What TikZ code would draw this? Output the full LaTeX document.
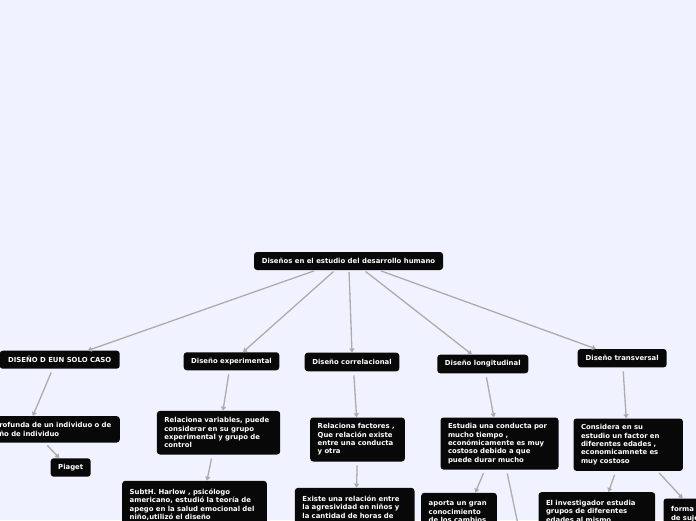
\documentclass[tikz,border=0pt]{standalone}
\usepackage{fontspec}
\setmainfont{DejaVu Sans}
\usetikzlibrary{arrows.meta}
\definecolor{bg}{RGB}{240,243,255}
\definecolor{edgec}{RGB}{172,172,172}
\definecolor{boxc}{RGB}{8,8,8}
\begin{document}
\begin{tikzpicture}[x=1pt,y=-1pt,
  every node/.style={font=\bfseries\fontsize{6.9}{8.3}\selectfont, text=white},
  box/.style={fill=boxc, rounded corners=3pt, inner xsep=7.5pt, inner ysep=4.5pt, align=left},
  cutbox/.style={box, inner ysep=8pt},
  sbox/.style={fill=boxc, rounded corners=3pt, inner sep=0pt, align=center},
  conn/.style={draw=edgec, line width=1.3pt, -{Triangle[length=4pt,width=5pt]}, shorten <=3.8pt}]
\useasboundingbox (0,0) rectangle (696,520);
\clip (0,0) rectangle (696,520);
\fill[bg] (0,0) rectangle (696,520);

% level 0 and 1
\node[sbox, minimum width=189pt, minimum height=18pt] (root) at (348.5,261) {Diseños en el estudio del desarrollo humano};
\node[sbox, minimum width=120pt, minimum height=18pt] (solo) at (59.7,359.7) {DISEÑO D EUN SOLO CASO};
\node[sbox, minimum width=95.6pt, minimum height=18pt] (exp) at (231.5,361.3) {Diseño experimental};
\node[sbox, minimum width=94.6pt, minimum height=18.6pt] (corr) at (352,362) {Diseño correlacional};
\node[sbox, minimum width=91pt, minimum height=18.6pt] (long) at (482.8,364) {Diseño longitudinal};
\node[sbox, minimum width=89pt, minimum height=18.3pt] (trans) at (622.2,358.2) {Diseño transversal};

% level 2 and 3
\node[box, anchor=north east, text width=113pt, minimum height=26.3pt] (prof) at (120,416) {rofunda de un individuo o de\\ño de individuo};
\node[sbox, minimum width=40pt, minimum height=18.4pt] (piaget) at (70.7,467.5) {Piaget};
\node[box, anchor=north west, text width=108.3pt, minimum height=43.6pt] (relvar) at (156.7,410.7) {Relaciona variables, puede\\considerar en su grupo\\experimental y grupo de\\control};
\node[cutbox, anchor=north west, text width=129.7pt] (harlow) at (122,480.7) {SubtH. Harlow , psicólogo\\americano, estudió la teoría de\\apego en la salud emocional del\\niño,utilizó el diseño\\\mbox{}\\\mbox{}};
\node[box, anchor=north west, text width=79.7pt, minimum height=44pt] (relfac) at (310,417.3) {Relaciona factores ,\\Que relación existe\\entre una conducta\\y otra};
\node[cutbox, anchor=north west, text width=104.6pt] (existe) at (294.7,487.7) {Existe una relación entre\\la agresividad en niños y\\la cantidad de horas de\\\mbox{}\\\mbox{}};
\node[box, anchor=north west, text width=103pt, minimum height=52pt] (estudia) at (440.3,417.3) {Estudia una conducta por\\mucho tiempo ,\\económicamente es muy\\costoso debido a que\\puede durar mucho};
\node[cutbox, anchor=north west, text width=60.7pt] (aporta) at (421,492.7) {aporta un gran\\conocimiento\\de los cambios\\\mbox{}};
\node[box, anchor=north west, text width=94.4pt, minimum height=52.4pt] (cons) at (573.3,418.3) {Considera en su\\estudio un factor en\\diferentes edades ,\\economicamnete es\\muy costoso};
\node[cutbox, anchor=north west, text width=101.7pt] (elinv) at (538.3,492) {El investigador estudia\\grupos de diferentes\\edades al mismo\\\mbox{}};
\node[cutbox, anchor=north west, text width=60pt] (forma) at (663.3,498.3) {forma\\de suje\\\mbox{}};
\coordinate (offl) at (521.2,540);

% connectors
\draw[conn, shorten <=2pt] ([xshift=-32.5pt]root.south) -- ([xshift=28pt]solo.north);
\draw[conn, shorten <=2pt] ([xshift=-13.5pt]root.south) -- ([xshift=11.5pt]exp.north);
\draw[conn, shorten <=2pt] ([xshift=0.5pt]root.south) -- (corr.north);
\draw[conn, shorten <=2pt] ([xshift=15.5pt]root.south) -- ([xshift=-10.8pt]long.north);
\draw[conn, shorten <=2pt] ([xshift=30.5pt]root.south) -- ([xshift=-26.2pt]trans.north);
\draw[conn] ([xshift=-7pt]solo.south) -- ([xshift=-23pt]prof.north);
\draw[conn] ([xshift=-11pt]prof.south) -- ([xshift=-11.4pt]piaget.north);
\draw[conn] ([xshift=-2.2pt]exp.south) -- ([xshift=4.4pt]relvar.north);
\draw[conn] ([xshift=-6.3pt]relvar.south) -- ([xshift=12.4pt]harlow.north);
\draw[conn] ([xshift=1.7pt]corr.south) -- ([xshift=-1pt]relfac.north);
\draw[conn] ([xshift=-0.3pt]relfac.south) -- ([xshift=1.8pt]existe.north);
\draw[conn] ([xshift=2.9pt]long.south) -- ([xshift=-5.6pt]estudia.north);
\draw[conn] ([xshift=-14.6pt]estudia.south) -- ([xshift=16.2pt]aporta.north);
\draw[conn] ([xshift=7pt]estudia.south) -- (offl);
\draw[conn] ([xshift=0.8pt]trans.south) -- ([xshift=-2pt]cons.north);
\draw[conn] ([xshift=-12.3pt]cons.south) -- ([xshift=11.6pt]elinv.north);
\draw[conn, shorten <=2.6pt] ([xshift=29.3pt]cons.south) -- ([xshift=19.4pt]forma.north west);
\end{tikzpicture}
\end{document}
